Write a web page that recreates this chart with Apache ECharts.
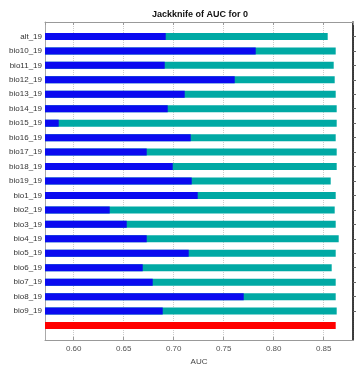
<!DOCTYPE html>
<html>
<head>
<meta charset="utf-8">
<script src="https://cdn.jsdelivr.net/npm/echarts@6/dist/echarts.min.js"></script>
<style>
  html, body { margin: 0; padding: 0; background: #fff; }
  #chart { width: 359px; height: 365px; }
</style>
</head>
<body>
<div id="chart"></div>
<script>
// variables, top to bottom
const variables = [
  'alt_19', 'bio10_19', 'bio11_19', 'bio12_19', 'bio13_19', 'bio14_19', 'bio15_19',
  'bio16_19', 'bio17_19', 'bio18_19', 'bio19_19', 'bio1_19', 'bio2_19', 'bio3_19',
  'bio4_19', 'bio5_19', 'bio6_19', 'bio7_19', 'bio8_19', 'bio9_19'
]
// AUC without the variable (teal)
const withoutVar = [
  0.854, 0.862, 0.860, 0.861, 0.862, 0.863, 0.863,
  0.862, 0.863, 0.863, 0.857, 0.862, 0.861, 0.862,
  0.865, 0.862, 0.858, 0.862, 0.862, 0.863
]
// AUC with only the variable (blue)
const withOnly = [
  0.692, 0.782, 0.691, 0.761, 0.711, 0.694, 0.585,
  0.717, 0.673, 0.699, 0.718, 0.724, 0.636, 0.653,
  0.673, 0.715, 0.669, 0.679, 0.770, 0.689
]
// AUC with all variables (red)
const withAll = 0.862

const xMin = 0.5713
const xMax = 0.8793

// blank slot above and below, plus the row for the red bar
const cats = ['_top', ...variables, '_all', '_bottom']
const pad = v => [null, ...v, null, null]

const chart = echarts.init(document.getElementById('chart'))
const font = 'Liberation Sans, Arial, sans-serif'

chart.setOption({
  animation: false,
  backgroundColor: '#fff',
  title: {
    text: 'Jackknife of AUC for 0',
    left: 152,
    top: 10,
    padding: 0,
    textStyle: { fontFamily: font, fontSize: 9, fontWeight: 'bold', color: '#111' }
  },
  // v6 grows the grid to fit labels by default; keep the box fixed
  grid: { left: 45, right: 6, top: 22, bottom: 25, containLabel: false, outerBoundsMode: 'none' },
  xAxis: [{
    type: 'value',
    min: xMin,
    max: xMax,
    position: 'bottom',
    name: 'AUC',
    nameLocation: 'middle',
    nameGap: 14,
    nameTextStyle: { fontFamily: font, fontSize: 8, color: '#444' },
    axisLine: { show: true, lineStyle: { color: '#999', width: 1 } },
    axisTick: { show: true, inside: true, length: 3, lineStyle: { color: '#999' } },
    axisLabel: {
      fontFamily: font, fontSize: 8, color: '#555', margin: 5,
      showMinLabel: false, showMaxLabel: false,
      formatter: v => v.toFixed(2)
    },
    splitLine: { show: true, lineStyle: { color: '#ccc', type: 'dotted' } }
  }, {
    type: 'value',
    min: xMin,
    max: xMax,
    position: 'top',
    axisLine: { show: true, lineStyle: { color: '#999', width: 1 } },
    axisTick: { show: true, inside: true, length: 3, lineStyle: { color: '#999' } },
    axisLabel: { show: false },
    splitLine: { show: false }
  }],
  yAxis: [{
    type: 'category',
    data: cats,
    inverse: true,
    boundaryGap: false,
    position: 'left',
    name: 'Environmental Variable',
    nameLocation: 'middle',
    nameGap: 37,
    nameRotate: 90,
    nameTextStyle: { fontFamily: font, fontSize: 9, color: '#444' },
    axisLine: { show: true, lineStyle: { color: '#aaa', width: 1 } },
    axisTick: { show: false },
    axisLabel: {
      interval: 0,
      fontFamily: font, fontSize: 8, color: '#333', margin: 3,
      formatter: v => v.startsWith('_') ? '' : v
    },
    splitLine: { show: false }
  }, {
    type: 'category',
    data: cats,
    inverse: true,
    boundaryGap: false,
    position: 'right',
    axisLine: { show: true, lineStyle: { color: '#000', width: 1.5 } },
    axisTick: {
      show: true, length: 3, lineStyle: { color: '#666' },
      interval: (i, v) => !v.startsWith('_')
    },
    axisLabel: { show: false },
    splitLine: { show: false }
  }],
  series: [{
    name: 'Without variable',
    type: 'bar',
    data: pad(withoutVar),
    barWidth: 7,
    barGap: '-100%',
    itemStyle: { color: '#00a9a4' }
  }, {
    name: 'With only variable',
    type: 'bar',
    data: pad(withOnly),
    barWidth: 7,
    barGap: '-100%',
    itemStyle: { color: '#0a0af0' }
  }, {
    name: 'With all variables',
    type: 'bar',
    data: [...Array(variables.length + 1).fill(null), withAll, null],
    barWidth: 7,
    barGap: '-100%',
    itemStyle: { color: '#ff0000' }
  }]
})
</script>
</body>
</html>
